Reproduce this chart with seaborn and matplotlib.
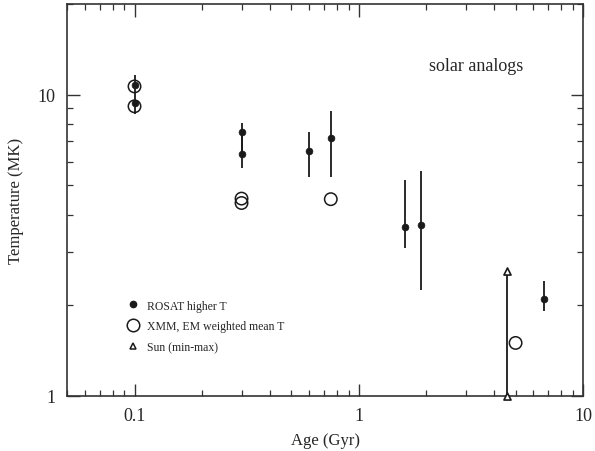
import numpy as np
import pandas as pd
import matplotlib
matplotlib.use("Agg")
import matplotlib.pyplot as plt
from matplotlib.lines import Line2D
import seaborn as sns

# ROSAT higher-T component (filled dots with error bars)
rosat_age = [0.1, 0.1, 0.3, 0.3, 0.6, 0.75, 1.6, 1.9, 6.7]
rosat_T = [10.8, 9.35, 7.5, 6.35, 6.5, 7.2, 3.65, 3.68, 2.1]
rosat_lo = [10.0, 8.6, 6.35, 5.7, 5.35, 5.35, 3.1, 2.25, 1.91]
rosat_hi = [11.6, 10.0, 8.05, 7.5, 7.5, 8.85, 5.2, 5.6, 2.4]

# XMM EM-weighted mean T (open circles)
xmm_age = [0.1, 0.1, 0.3, 0.3, 0.75, 5.0]
xmm_T = [10.65, 9.15, 4.52, 4.37, 4.5, 1.5]

# Sun (min-max)
sun_age = [4.6, 4.6]
sun_T = [1.0, 2.6]

x_ticks = [0.1, 1, 10]
x_ticklabels = ["0.1", "1", "10"]
y_ticks = [1, 10]
y_ticklabels = ["1", "10"]

sns.set_style("ticks")
plt.rcParams["font.family"] = ["Liberation Serif", "DejaVu Serif"]
plt.rcParams["mathtext.fontset"] = "stix"

fig = plt.figure(figsize=(5.95, 4.52), dpi=100)
ax = fig.add_axes([0.1126, 0.1217, 0.8674, 0.8673])

ink = "#1a1a1a"

# error bars
ax.vlines(rosat_age, rosat_lo, rosat_hi, color=ink, lw=1.3, zorder=2)
ax.vlines(sun_age[0], sun_T[0], sun_T[1], color=ink, lw=1.3, zorder=2)

df_r = pd.DataFrame({"age": rosat_age, "T": rosat_T})
df_x = pd.DataFrame({"age": xmm_age, "T": xmm_T})
df_s = pd.DataFrame({"age": sun_age, "T": sun_T})

sns.scatterplot(data=df_x, x="age", y="T", ax=ax, marker="o", s=80,
                facecolor="none", edgecolor=ink, linewidth=1.1, zorder=3)
sns.scatterplot(data=df_r, x="age", y="T", ax=ax, marker="o", s=24,
                color=ink, edgecolor=ink, linewidth=0.5, zorder=4)
sns.scatterplot(data=df_s, x="age", y="T", ax=ax, marker="^", s=26,
                facecolor="white", edgecolor=ink, linewidth=1.2, zorder=4,
                clip_on=False)

ax.set_xscale("log")
ax.set_yscale("log")
ax.set_xlim(0.05, 10)
ax.set_ylim(1, 20)

ax.set_xticks(x_ticks)
ax.set_xticklabels(x_ticklabels)
ax.set_yticks(y_ticks)
ax.set_yticklabels(y_ticklabels)
ax.xaxis.set_minor_locator(matplotlib.ticker.LogLocator(base=10, subs=np.arange(2, 10)))
ax.yaxis.set_minor_locator(matplotlib.ticker.LogLocator(base=10, subs=np.arange(2, 10)))
ax.xaxis.set_minor_formatter(matplotlib.ticker.NullFormatter())
ax.yaxis.set_minor_formatter(matplotlib.ticker.NullFormatter())

ax.tick_params(which="both", direction="in", top=True, right=True, color="#333333")
ax.tick_params(which="major", length=9, width=1.0, labelsize=13, pad=8)
ax.tick_params(which="minor", length=4.5, width=0.9)
for sp in ax.spines.values():
    sp.set_color("#333333")
    sp.set_linewidth(1.2)

ax.set_xlabel("Age (Gyr)", fontsize=12, labelpad=6)
ax.set_ylabel("Temperature (MK)", fontsize=12, labelpad=10)

ax.text(0.793, 0.844, "solar analogs", transform=ax.transAxes, fontsize=13,
        ha="center", va="center")

handles = [
    Line2D([], [], ls="none", marker="o", ms=4.5, color=ink),
    Line2D([], [], ls="none", marker="o", ms=9, mfc="none", mec=ink, mew=1.1),
    Line2D([], [], ls="none", marker="^", ms=5, mfc="none", mec=ink, mew=1.1),
]
labels = ["ROSAT higher T", "XMM, EM weighted mean T", "Sun (min-max)"]
ax.legend(handles, labels, loc="lower left", bbox_to_anchor=(0.105, 0.097),
          frameon=False, fontsize=8.5, handletextpad=0.6, labelspacing=0.75,
          handlelength=1.2, borderaxespad=0)

fig.savefig("out.png", dpi=100)
